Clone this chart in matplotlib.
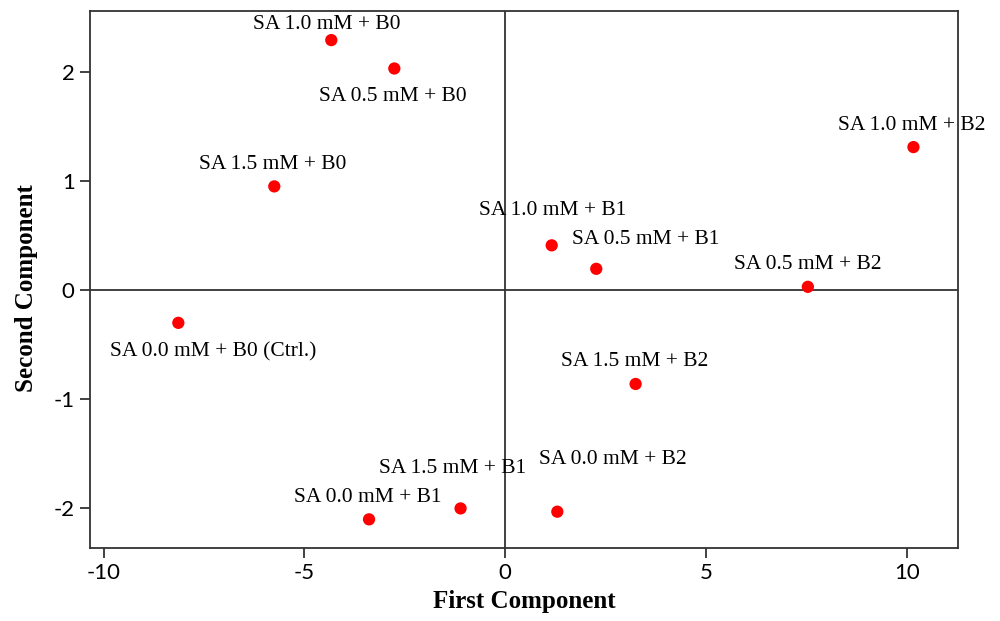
import matplotlib
matplotlib.use("Agg")
import matplotlib.pyplot as plt

plt.rcParams["axes.unicode_minus"] = False

# PCA scores per treatment
labels = [
    "SA 1.0 mM + B0",
    "SA 0.5 mM + B0",
    "SA 1.5 mM + B0",
    "SA 1.0 mM + B2",
    "SA 1.0 mM + B1",
    "SA 0.5 mM + B1",
    "SA 0.5 mM + B2",
    "SA 0.0 mM + B0 (Ctrl.)",
    "SA 1.5 mM + B2",
    "SA 0.0 mM + B2",
    "SA 1.5 mM + B1",
    "SA 0.0 mM + B1",
]
first_component = [-4.33, -2.76, -5.75, 10.17, 1.16, 2.27, 7.54, -8.14, 3.25, 1.30, -1.11, -3.39]
second_component = [2.29, 2.03, 0.95, 1.31, 0.41, 0.195, 0.03, -0.30, -0.86, -2.03, -2.00, -2.10]

x_ticks = [-10, -5, 0, 5, 10]
y_ticks = [-2, -1, 0, 1, 2]

# label offsets (pixels) from each point: left edge, vertical centre
label_offsets = [
    (-78, 16), (-75, -28), (-75, 22), (-75, 22), (-73, 35), (-24, 29),
    (-74, 22), (-68, -29), (-75, 22), (-18, 52), (-82, 40), (-75, 22),
]

serif = "Liberation Serif"
line_color = "#333333"

fig = plt.figure(figsize=(10, 6.21), dpi=100)
ax = fig.add_axes([0.09, 0.118, 0.868, 0.864])

ax.axvline(0, color=line_color, linewidth=1.3, zorder=1)
ax.axhline(0, color=line_color, linewidth=1.3, zorder=1)

ax.scatter(first_component, second_component, s=78, color="#ff0000",
           edgecolors="none", zorder=3)

for name, x, y, (dx, dy) in zip(labels, first_component, second_component, label_offsets):
    ax.annotate(name, (x, y), xytext=(dx, dy), textcoords="offset pixels",
                ha="left", va="center", fontsize=15.5, family=serif, zorder=4)

ax.set_xlim(-10.34, 11.28)
ax.set_ylim(-2.36, 2.555)
ax.set_xticks(x_ticks)
ax.set_yticks(y_ticks)
ax.tick_params(direction="out", length=7, width=1.3, color=line_color,
               labelsize=16, pad=4)
for lab in ax.get_xticklabels() + ax.get_yticklabels():
    lab.set_family("Lato")

for spine in ax.spines.values():
    spine.set_color(line_color)
    spine.set_linewidth(1.3)

ax.set_xlabel("First Component", family=serif, fontweight="bold", fontsize=18, va="center")
ax.set_ylabel("Second Component", family=serif, fontweight="bold", fontsize=18, va="center")
ax.xaxis.set_label_coords(0.5, -0.101)
ax.yaxis.set_label_coords(-0.0726, 0.484)

fig.savefig("out.png", dpi=100)
